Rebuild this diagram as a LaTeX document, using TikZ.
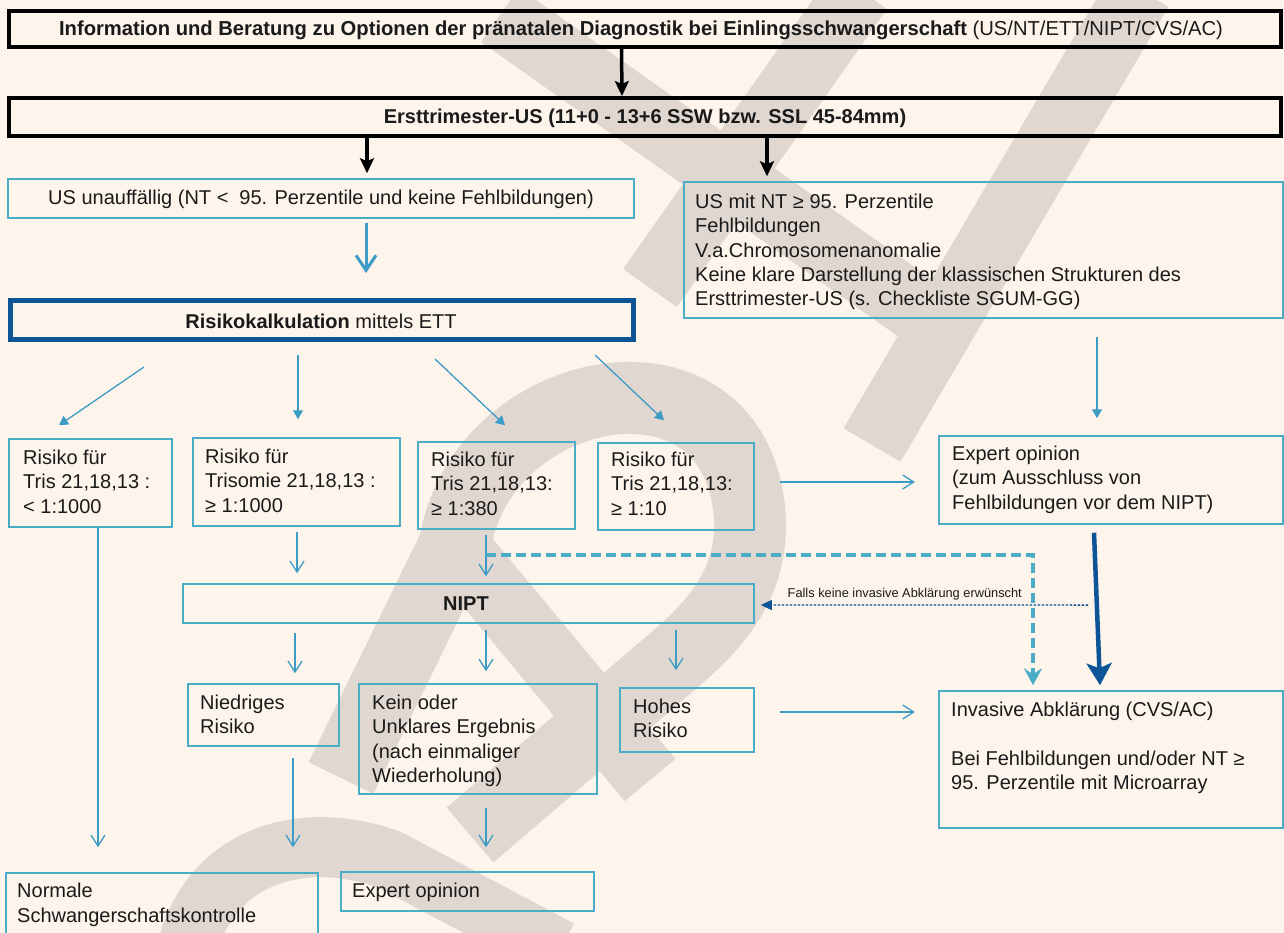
\documentclass[tikz,border=0pt]{standalone}
\usepackage{fontspec}
\setmainfont{Liberation Sans}
\usetikzlibrary{arrows.meta,fit,calc}
\definecolor{bg}{HTML}{FDF5EC}
\definecolor{lblue}{HTML}{4BACC6}
\definecolor{ablue}{HTML}{3E9BC6}
\definecolor{dblue}{HTML}{0D5597}
\definecolor{wm}{HTML}{E0D8D0}
\definecolor{txt}{HTML}{1A1A1A}
\begin{document}
\begin{tikzpicture}[x=1pt,y=-1pt,
  every node/.style={font=\fontsize{20}{24.3}\selectfont, text=txt},
  wmark/.style={draw=wm, line width=66pt, line cap=butt, line join=round},
  blkbox/.style={draw=black, line width=4pt, inner sep=0pt},
  lbox/.style={draw=lblue, line width=1.5pt, inner sep=0pt},
  dbox/.style={draw=dblue, line width=5pt, inner sep=0pt},
  tl/.style={anchor=north west, align=left, inner sep=0pt},
  tc/.style={anchor=base, inner sep=0pt},
  blkarr/.style={draw=black, line width=3.5pt, -{Stealth[length=15pt,width=14pt,inset=3pt]}},
  barb/.style={draw=ablue, line width=1.3pt, -{Straight Barb[length=11pt,width=14pt]}},
  tri/.style={draw=ablue, line width=1.3pt, -{Triangle[length=9pt,width=10pt]}},
  thickbarb/.style={draw=ablue, line width=3pt, -{Straight Barb[length=15pt,width=20pt]}},
  darkarr/.style={draw=dblue, line width=4.5pt, -{Stealth[length=22pt,width=25pt,inset=5pt]}},
  dasharr/.style={draw=lblue, line width=4pt, dash pattern=on 10pt off 5pt, -{Stealth[length=17pt,width=18pt,inset=6pt]}},
  dotarr/.style={draw=dblue, line width=1.3pt, dash pattern=on 2.5pt off 1.5pt, -{Triangle[length=11pt,width=10pt]}}
]
\fill[bg] (0,0) rectangle (1284,933);
\useasboundingbox (0,0) rectangle (1284,933);
% watermark
\begin{scope}
\clip (0,0) rectangle (1284,933);
\draw[wmark] (860,-10) -- (650,288);
\draw[wmark] (500,15) -- (935,322);
\draw[wmark] (1140,-10) -- (872,445);
\draw[wmark, line width=72pt] (341,778) -- (455,545) .. controls (480,380) and (740,330) .. (750,520) .. controls (752,580) and (720,620) .. (680,655) -- (470,835);
\draw[wmark] (455,545) -- (650,780);
\draw[wmark, line width=60pt] (188,945) .. controls (215,850) and (310,830) .. (390,860) -- (560,950);
\end{scope}
% boxes
\node[blkbox, fit={(9,11) (1281,47)}] (top) {};
\node[blkbox, fit={(9,98) (1281,136)}] (box2) {};
\node[lbox, fit={(8,179) (634,218)}] (usu) {};
\node[lbox, fit={(684,182) (1283,318)}] (rbox) {};
\node[dbox, fit={(10,300.5) (633,339.5)}] (risk) {};
\node[lbox, fit={(9,439) (172,527)}] (r1) {};
\node[lbox, fit={(193,438) (400,526)}] (r2) {};
\node[lbox, fit={(418,442) (575,529)}] (r3) {};
\node[lbox, fit={(598,443) (754,530)}] (r4) {};
\node[lbox, fit={(939,436) (1283,524)}] (ex1) {};
\node[lbox, fit={(183,584) (754,623)}] (nipt) {};
\node[lbox, fit={(188,684) (339,746)}] (nie) {};
\node[lbox, fit={(359,684) (597,794)}] (kein) {};
\node[lbox, fit={(620,688) (754,752)}] (hoh) {};
\node[lbox, fit={(939,691) (1283,828)}] (inv) {};
\node[lbox, fit={(6,873) (318,945)}] (norm) {};
\node[lbox, fit={(341,872) (594,911)}] (ex2) {};
% texts
\node[tc] (topt) at (641,36) {\fontsize{20.2}{24}\selectfont\textbf{Information und Beratung zu Optionen der pränatalen Diagnostik bei Einlingsschwangerschaft} (US/NT/ETT/NIPT/CVS/AC)};
\node[tc] (box2t) at (645,124) {\textbf{Ersttrimester-US (11+0 - 13+6 SSW bzw. SSL 45-84mm)}};
\node[tc] (usut) at (321,205) {US unauffällig (NT <\hspace{0.55em}95. Perzentile und keine Fehlbildungen)};
\node[tc] (riskt) at (321,328) {\textbf{Risikokalkulation} mittels ETT};
\node[tc] (niptt) at (466,610) {\textbf{NIPT}};
\node[tl] (rboxt) at (695,194) {US mit NT ≥ 95. Perzentile\\Fehlbildungen\\V.a.Chromosomenanomalie\\Keine klare Darstellung der klassischen Strukturen des\\Ersttrimester-US (s. Checkliste SGUM-GG)};
\node[tl] (r1t) at (23,450) {Risiko für\\Tris 21,18,13 :\\< 1:1000};
\node[tl] (r2t) at (205,449) {Risiko für\\Trisomie 21,18,13 :\\ ≥ 1:1000};
\node[tl] (r3t) at (431,452) {Risiko für\\Tris 21,18,13:\\ ≥ 1:380};
\node[tl] (r4t) at (611,452) {Risiko für\\Tris 21,18,13:\\ ≥ 1:10};
\node[tl] (ex1t) at (952,446) {Expert opinion\\(zum Ausschluss von\\Fehlbildungen vor dem NIPT)};
\node[tl] (niet) at (200,695) {Niedriges\\Risiko};
\node[tl] (keint) at (372,695) {Kein oder\\Unklares Ergebnis\\(nach einmaliger\\Wiederholung)};
\node[tl] (hoht) at (633,699) {Hohes\\Risiko};
\node[tl] (invt) at (951,702) {Invasive Abklärung (CVS/AC)\\[24.3pt]Bei Fehlbildungen und/oder NT ≥\\95. Perzentile mit Microarray};
\node[tl] (normt) at (17,883) {Normale\\Schwangerschaftskontrolle};
\node[tl] (ex2t) at (352,883) {Expert opinion};
% connectors
\draw[blkarr] ($(top.south)+(-23.5,0)$) -- ($(box2.north)+(-23,0)$);
\draw[blkarr] ($(box2.south)+(-278,0)$) -- ($(usu.north)+(46,-5)$);
\draw[blkarr] ($(box2.south)+(122,0)$) -- ($(rbox.north)+(-216.5,-5)$);
\draw[thickbarb] ($(usu.south)+(45,4)$) -- ($(risk.north)+(44.5,-25)$);
\draw[tri] ($(risk.south)+(-177.5,25)$) -- ($(r1.north)+(-31.5,-13)$);
\draw[tri] ($(risk.south)+(-23.5,13)$) -- ($(r2.north)+(1.5,-18)$);
\draw[tri] ($(risk.south)+(113.5,17)$) -- ($(r3.north)+(8.5,-16)$);
\draw[tri] ($(risk.south)+(273.5,13)$) -- ($(r4.north)+(-12,-22)$);
\draw[tri] ($(rbox.south)+(113.5,18)$) -- ($(ex1.north)+(-14,-17)$);
\draw[barb] ($(r4.east)+(25.35,-4.5)$) -- ($(ex1.west)+(-23.35,2)$);
\draw[barb] ($(r1.south)+(7.5,0)$) -- ($(norm.north)+(-64,-25)$);
\draw[barb] ($(r2.south)+(0.5,5)$) -- ($(nipt.north)+(-171.5,-10)$);
\draw[barb] ($(r3.south)+(-10.5,5)$) -- ($(nipt.north)+(17.5,-7)$);
\draw[black, opacity=0.25, line width=4pt, dash pattern=on 10pt off 5pt, shift={(1.5,2.5)}] ($(r3.south)+(-10.5,25)$) -| ($(inv.north)+(-78,-20)$);
\draw[dasharr] ($(r3.south)+(-10.5,25)$) -| ($(inv.north)+(-78,-5)$);
\draw[dotarr] ($(ex1.south)+(-23,80.35)$) -- node[pos=0.56, above=4pt, inner sep=0pt, font=\fontsize{12.8}{14}\selectfont] (falls) {Falls keine invasive Abklärung erwünscht} ($(nipt.east)+(6,1.5)$);
\draw[darkarr] ($(ex1.south)+(-17,8)$) -- ($(inv.north)+(-11,-5)$);
\draw[barb] ($(nipt.south)+(-173.5,9)$) -- ($(nie.north)+(31.5,-10)$);
\draw[barb] ($(nipt.south)+(17.5,6)$) -- ($(kein.north)+(8,-12)$);
\draw[barb] ($(nipt.south)+(207.5,6)$) -- ($(hoh.north)+(-11,-17)$);
\draw[barb] ($(hoh.east)+(25.35,-8)$) -- ($(inv.west)+(-23.35,-47.5)$);
\draw[barb] ($(nie.south)+(29.5,11)$) -- ($(norm.north)+(131,-25)$);
\draw[barb] ($(kein.south)+(8,13)$) -- ($(ex2.north)+(18.5,-24)$);
\end{tikzpicture}
\end{document}
